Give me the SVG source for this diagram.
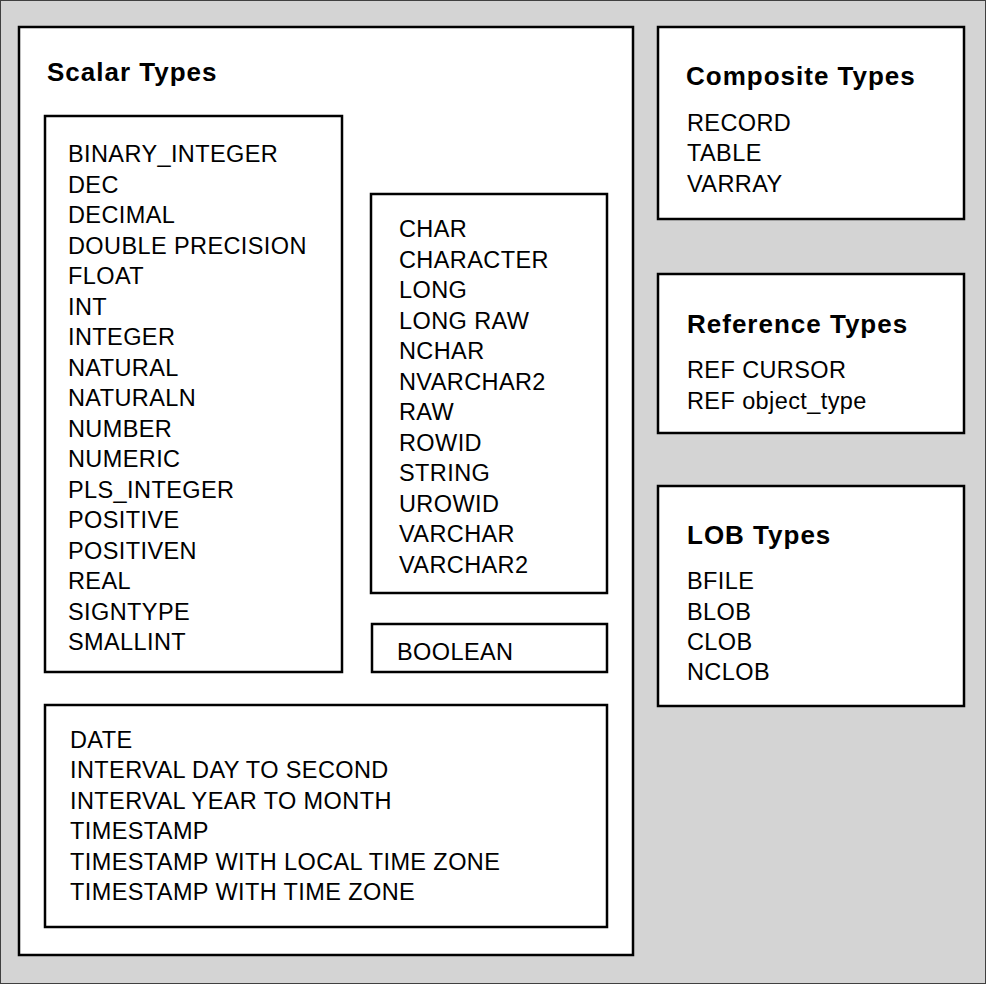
<svg xmlns="http://www.w3.org/2000/svg" width="986" height="984" viewBox="0 0 986 984">
<style>
.box{fill:#fff;stroke:#000;stroke-width:2.5}
.t{font-family:"Liberation Sans",Arial,sans-serif;font-size:23.5px;letter-spacing:0.4px;fill:#000}
.h{font-family:"Liberation Sans",Arial,sans-serif;font-size:26px;font-weight:bold;letter-spacing:1px;fill:#000}
</style>
<rect x="0.5" y="0.5" width="985" height="983" fill="#d4d4d4" stroke="#404040" stroke-width="1"/>
<g id="scalar">
<rect class="box" x="19" y="27" width="614" height="928"/>
<text class="h" x="47" y="81">Scalar Types</text>
</g>
<g id="numeric">
<rect class="box" x="45" y="116" width="297" height="556"/>
<text class="t" x="68" y="162">BINARY_INTEGER</text>
<text class="t" x="68" y="192.5">DEC</text>
<text class="t" x="68" y="223">DECIMAL</text>
<text class="t" x="68" y="253.5">DOUBLE PRECISION</text>
<text class="t" x="68" y="284">FLOAT</text>
<text class="t" x="68" y="314.5">INT</text>
<text class="t" x="68" y="345">INTEGER</text>
<text class="t" x="68" y="375.5">NATURAL</text>
<text class="t" x="68" y="406">NATURALN</text>
<text class="t" x="68" y="436.5">NUMBER</text>
<text class="t" x="68" y="467">NUMERIC</text>
<text class="t" x="68" y="497.5">PLS_INTEGER</text>
<text class="t" x="68" y="528">POSITIVE</text>
<text class="t" x="68" y="558.5">POSITIVEN</text>
<text class="t" x="68" y="589">REAL</text>
<text class="t" x="68" y="619.5">SIGNTYPE</text>
<text class="t" x="68" y="650">SMALLINT</text>
</g>
<g id="character">
<rect class="box" x="371" y="194" width="236" height="399"/>
<text class="t" x="399" y="237">CHAR</text>
<text class="t" x="399" y="267.5">CHARACTER</text>
<text class="t" x="399" y="298">LONG</text>
<text class="t" x="399" y="328.5">LONG RAW</text>
<text class="t" x="399" y="359">NCHAR</text>
<text class="t" x="399" y="389.5">NVARCHAR2</text>
<text class="t" x="399" y="420">RAW</text>
<text class="t" x="399" y="450.5">ROWID</text>
<text class="t" x="399" y="481">STRING</text>
<text class="t" x="399" y="511.5">UROWID</text>
<text class="t" x="399" y="542">VARCHAR</text>
<text class="t" x="399" y="572.5">VARCHAR2</text>
</g>
<g id="boolean">
<rect class="box" x="372" y="624" width="235" height="48"/>
<text class="t" x="397" y="660">BOOLEAN</text>
</g>
<g id="datetime">
<rect class="box" x="45" y="705" width="562" height="222"/>
<text class="t" x="70" y="748">DATE</text>
<text class="t" x="70" y="778.4">INTERVAL DAY TO SECOND</text>
<text class="t" x="70" y="808.8">INTERVAL YEAR TO MONTH</text>
<text class="t" x="70" y="839.2">TIMESTAMP</text>
<text class="t" x="70" y="869.6">TIMESTAMP WITH LOCAL TIME ZONE</text>
<text class="t" x="70" y="900">TIMESTAMP WITH TIME ZONE</text>
</g>
<g id="composite">
<rect class="box" x="658" y="27" width="306" height="192"/>
<text class="h" x="686" y="85">Composite Types</text>
<text class="t" x="687" y="131">RECORD</text>
<text class="t" x="687" y="161.3">TABLE</text>
<text class="t" x="687" y="191.6">VARRAY</text>
</g>
<g id="reference">
<rect class="box" x="658" y="274" width="306" height="159"/>
<text class="h" x="687" y="333">Reference Types</text>
<text class="t" x="687" y="378.3">REF CURSOR</text>
<text class="t" x="687" y="408.5">REF object_type</text>
</g>
<g id="lob">
<rect class="box" x="658" y="486" width="306" height="220"/>
<text class="h" x="687" y="544">LOB Types</text>
<text class="t" x="687" y="589.3">BFILE</text>
<text class="t" x="687" y="619.5">BLOB</text>
<text class="t" x="687" y="649.7">CLOB</text>
<text class="t" x="687" y="680">NCLOB</text>
</g>
<g id="connectors"></g>
</svg>
